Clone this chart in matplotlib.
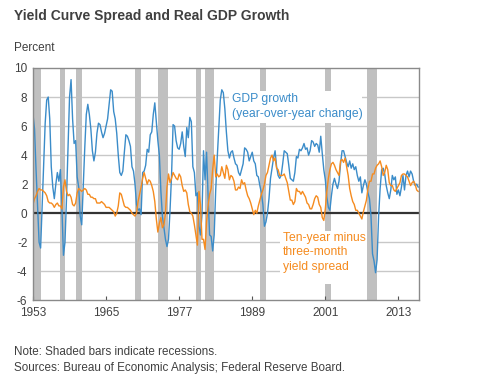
import numpy as np
import matplotlib
matplotlib.use("Agg")
import matplotlib.pyplot as plt
from matplotlib.patches import Rectangle

plt.rcParams['font.family'] = ['Liberation Sans', 'DejaVu Sans']
plt.rcParams['axes.unicode_minus'] = False

# quarterly series, first point 1953 Q1
start_year = 1953.0

gdp_growth = [
    6.8, 5.8, 3.0, 0.5,     # 1953
    -2.0, -2.4, 0.5, 3.5,   # 1954
    6.2, 7.8, 8.0, 6.5,     # 1955
    3.2, 1.8, 1.0, 2.0,     # 1956
    2.8, 2.2, 3.0, 0.3,     # 1957
    -2.9, -2.0, 1.0, 4.5,   # 1958
    8.0, 9.2, 6.5, 4.8,     # 1959
    5.0, 2.5, 1.8, -0.2,    # 1960
    -0.8, 1.8, 4.5, 6.8,    # 1961
    7.5, 6.8, 5.8, 4.3,     # 1962
    3.6, 4.2, 5.5, 6.2,     # 1963
    6.1, 5.6, 5.2, 5.5,     # 1964
    6.0, 6.5, 7.5, 8.5,     # 1965
    8.4, 7.0, 6.5, 5.5,     # 1966
    4.0, 2.8, 2.6, 2.9,     # 1967
    4.2, 5.4, 5.3, 5.0,     # 1968
    4.6, 3.2, 2.9, 2.0,     # 1969
    0.6, 0.2, 0.3, -0.1,    # 1970
    2.8, 2.9, 3.3, 4.4,     # 1971
    4.2, 5.4, 5.6, 6.8,     # 1972
    7.6, 6.3, 5.0, 4.0,     # 1973
    1.5, -0.2, -1.0, -1.8,  # 1974
    -2.3, -1.8, 0.2, 2.6,   # 1975
    6.1, 6.0, 5.0, 4.5,     # 1976
    4.4, 4.8, 5.6, 4.6,     # 1977
    3.9, 5.9, 5.2, 6.6,     # 1978
    6.3, 3.2, 2.8, 1.2,     # 1979
    1.4, -0.9, -1.5, -0.1,  # 1980
    4.3, 2.3, 4.2, 1.2,     # 1981
    -1.5, -1.6, -2.6, -1.5, # 1982
    1.6, 3.8, 5.8, 7.8,     # 1983
    8.5, 8.3, 7.2, 5.6,     # 1984
    4.3, 3.8, 4.2, 4.3,     # 1985
    3.8, 3.4, 3.3, 2.8,     # 1986
    2.6, 3.0, 3.4, 4.5,     # 1987
    4.4, 4.2, 3.6, 3.9,     # 1988
    4.2, 3.6, 3.4, 2.6,     # 1989
    2.5, 1.9, 1.4, 0.6,     # 1990
    -0.9, -0.6, 0.0, 1.0,   # 1991
    2.4, 3.1, 3.8, 4.3,     # 1992
    3.2, 2.6, 2.4, 2.6,     # 1993
    3.4, 4.3, 4.2, 4.1,     # 1994
    3.3, 2.4, 2.3, 2.2,     # 1995
    2.8, 3.9, 3.8, 4.4,     # 1996
    4.3, 4.5, 4.8, 4.4,     # 1997
    4.5, 4.0, 4.3, 5.0,     # 1998
    4.9, 4.6, 4.8, 4.7,     # 1999
    4.2, 5.3, 4.1, 3.0,     # 2000
    2.3, 1.1, 0.4, 0.2,     # 2001
    1.2, 2.0, 2.4, 2.0,     # 2002
    1.7, 2.2, 3.4, 4.3,     # 2003
    4.3, 3.9, 3.5, 3.2,     # 2004
    3.6, 3.1, 3.4, 3.0,     # 2005
    3.2, 2.6, 2.2, 2.5,     # 2006
    1.4, 1.9, 2.3, 2.0,     # 2007
    1.4, 1.0, -0.2, -2.8,   # 2008
    -3.3, -4.1, -3.2, -0.2, # 2009
    1.7, 3.0, 3.1, 2.7,     # 2010
    1.9, 1.4, 1.0, 1.6,     # 2011
    2.6, 2.3, 2.5, 1.3,     # 2012
    1.6, 1.2, 1.8, 2.6,     # 2013
    1.6, 2.6, 2.9, 2.5,     # 2014
    2.9, 2.7, 2.2, 1.9,     # 2015
    2.0, 1.8,               # 2016
]

yield_spread = [
    0.6, 1.0, 1.2, 1.5,     # 1953
    1.7, 1.6, 1.6, 1.5,     # 1954
    1.4, 1.2, 0.8, 0.7,     # 1955
    0.7, 0.6, 0.4, 0.6,     # 1956
    0.7, 0.5, 0.5, 0.3,     # 1957
    1.8, 2.3, 1.5, 1.2,     # 1958
    1.3, 1.1, 0.6, 0.5,     # 1959
    0.7, 1.4, 1.7, 1.6,     # 1960
    1.5, 1.6, 1.7, 1.6,     # 1961
    1.3, 1.3, 1.1, 1.1,     # 1962
    1.0, 1.0, 0.7, 0.7,     # 1963
    0.7, 0.8, 0.7, 0.6,     # 1964
    0.4, 0.4, 0.4, 0.3,     # 1965
    0.2, 0.1, -0.2, 0.0,    # 1966
    0.5, 1.4, 1.3, 0.9,     # 1967
    0.5, 0.4, 0.4, 0.3,     # 1968
    0.2, 0.0, -0.1, -0.2,   # 1969
    0.0, 0.8, 1.3, 1.8,     # 1970
    2.4, 2.8, 2.4, 2.0,     # 1971
    2.3, 2.2, 1.9, 1.5,     # 1972
    0.8, -0.4, -1.3, -0.7,  # 1973
    -0.3, -1.0, -0.8, 0.0,  # 1974
    1.8, 2.7, 2.1, 2.4,     # 1975
    2.8, 2.6, 2.4, 2.3,     # 1976
    2.7, 2.5, 1.9, 1.5,     # 1977
    1.6, 1.4, 0.6, 0.1,     # 1978
    0.0, -0.2, -0.8, -1.5,  # 1979
    -2.2, 1.5, 0.6, -1.8,   # 1980
    -1.8, -2.5, -0.6, 0.5,  # 1981
    1.3, 1.7, 3.0, 4.0,     # 1982
    2.5, 2.7, 2.5, 2.6,     # 1983
    3.2, 2.8, 2.4, 3.3,     # 1984
    3.0, 2.3, 2.6, 2.5,     # 1985
    2.2, 1.6, 1.6, 1.8,     # 1986
    1.7, 2.3, 2.0, 2.1,     # 1987
    1.6, 1.2, 1.0, 0.7,     # 1988
    0.3, -0.1, 0.2, 0.0,    # 1989
    0.5, 0.9, 1.3, 1.6,     # 1990
    2.0, 2.6, 2.8, 3.3,     # 1991
    3.8, 4.0, 3.6, 3.8,     # 1992
    3.1, 3.0, 2.6, 2.6,     # 1993
    2.6, 2.7, 2.4, 2.1,     # 1994
    1.5, 0.9, 0.9, 0.6,     # 1995
    0.8, 1.7, 1.5, 1.5,     # 1996
    1.3, 1.5, 1.3, 1.1,     # 1997
    0.7, 0.6, 0.3, 0.3,     # 1998
    0.6, 1.0, 1.2, 1.1,     # 1999
    0.6, 0.4, -0.3, -0.5,   # 2000
    0.3, 1.5, 2.4, 3.0,     # 2001
    3.4, 3.5, 3.3, 3.0,     # 2002
    2.8, 2.6, 3.6, 3.7,     # 2003
    3.5, 3.8, 3.2, 2.6,     # 2004
    1.7, 1.2, 0.8, 0.6,     # 2005
    0.2, 0.2, 0.0, -0.2,    # 2006
    -0.4, 0.1, 0.5, 0.9,    # 2007
    1.7, 2.2, 2.2, 2.7,     # 2008
    2.7, 3.1, 3.3, 3.4,     # 2009
    3.6, 3.2, 2.6, 2.8,     # 2010
    3.3, 3.0, 2.1, 1.9,     # 2011
    1.9, 1.6, 1.5, 1.7,     # 2012
    1.9, 2.1, 2.6, 2.7,     # 2013
    2.7, 2.6, 2.5, 2.2,     # 2014
    1.9, 2.1, 2.2, 2.0,     # 2015
    1.6, 1.5,               # 2016
]

recessions = [
    (1953.0, 1954.3), (1957.4, 1958.3), (1960.0, 1961.0), (1969.75, 1970.75),
    (1973.6, 1975.1), (1979.8, 1980.55), (1981.3, 1982.8), (1990.2, 1991.2),
    (2001.0, 2001.9), (2007.8, 2009.45),
]

year_ticks = [1953, 1965, 1977, 1989, 2001, 2013]
y_ticks = [-6, -4, -2, 0, 2, 4, 6, 8, 10]

dates_gdp = start_year + np.arange(len(gdp_growth)) / 4
dates_spread = start_year + np.arange(len(yield_spread)) / 4

blue = '#3b8cc9'
orange = '#f58b1f'
text_color = '#404040'

fig = plt.figure(figsize=(4.79, 3.81), dpi=100)
ax = fig.add_axes([33 / 479, 1 - 300.3 / 381, 385.5 / 479, 232.3 / 381])

ax.set_xlim(1953, 2016.3)
ax.set_ylim(-6, 10)

for v in y_ticks:
    if v not in (0, -6, 10):
        ax.axhline(v, color='#c8c8c8', lw=1, zorder=0.5)

for a, b in recessions:
    ax.axvspan(a, b, color='#c0c0c0', lw=0, zorder=1)

# white label boxes that cut through the bars and grid
ax.add_patch(Rectangle((1985.2, 6.2), 21.9, 2.2, facecolor='white', edgecolor='none', zorder=2))
ax.add_patch(Rectangle((1993.5, -4.9), 14.3, 3.7, facecolor='white', edgecolor='none', zorder=2))

ax.axhline(0, color='#333333', lw=1.6, zorder=2.5)

ax.plot(dates_gdp, gdp_growth, color=blue, lw=1.0, zorder=3)
ax.plot(dates_spread, yield_spread, color=orange, lw=1.0, zorder=3.2)

ax.text(1985.6, 8.3, 'GDP growth\n(year-over-year change)', color=blue,
        fontsize=8.7, va='top', ha='left', linespacing=1.35, zorder=4)
ax.text(1994.0, -1.3, 'Ten-year minus\nthree-month\nyield spread', color=orange,
        fontsize=8.7, va='top', ha='left', linespacing=1.25, zorder=4)

ax.set_xticks(year_ticks)
ax.set_xticklabels([str(y) for y in year_ticks])
ax.set_yticks(y_ticks)
ax.tick_params(axis='x', direction='in', length=3, color='#555555',
               labelsize=8.5, labelcolor=text_color, pad=5)
ax.tick_params(axis='y', length=0, labelsize=8.5, labelcolor=text_color, pad=4)

for s in ax.spines.values():
    s.set_color('#8a8a8a')
    s.set_linewidth(1)
    s.set_zorder(5)

fig.text(14 / 479, 1 - 16 / 381, 'Yield Curve Spread and Real GDP Growth',
         fontsize=10, fontweight='bold', color=text_color, va='center', ha='left')
fig.text(14 / 479, 1 - 48 / 381, 'Percent', fontsize=8.5, color=text_color,
         va='center', ha='left')
fig.text(14 / 479, 1 - 352 / 381, 'Note: Shaded bars indicate recessions.',
         fontsize=8.4, color=text_color, va='center', ha='left')
fig.text(14 / 479, 1 - 368 / 381, 'Sources: Bureau of Economic Analysis; Federal Reserve Board.',
         fontsize=8.4, color=text_color, va='center', ha='left')

fig.savefig('out.png', dpi=100)
